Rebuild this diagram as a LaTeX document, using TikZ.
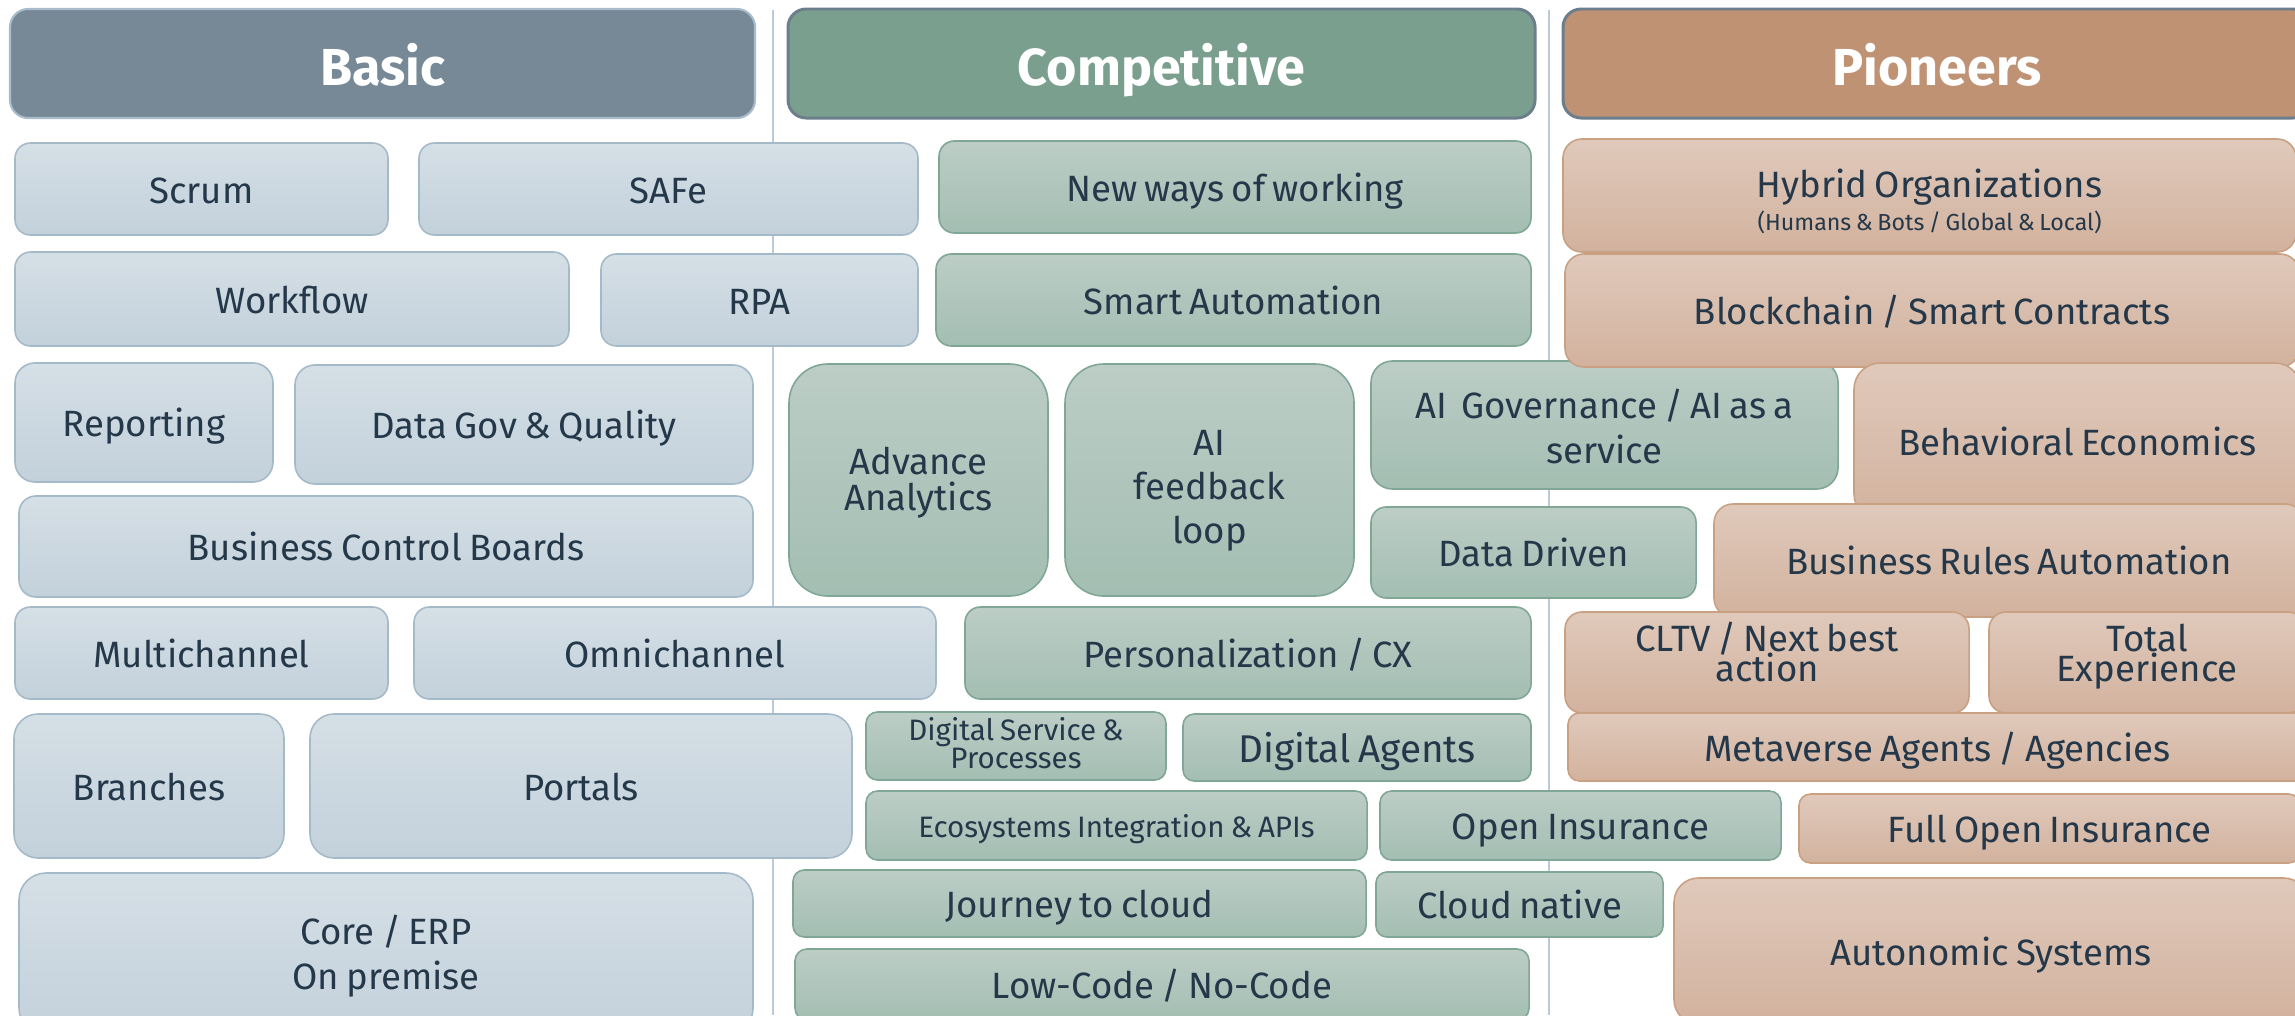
\documentclass[tikz,border=0pt]{standalone}
\usepackage{fontspec}
\setmainfont{Fira Sans}[WordSpace=0.75]
\definecolor{txt}{HTML}{25384A}
\definecolor{vline}{HTML}{B9CADB}
\definecolor{slate}{HTML}{6C7D8C}
\definecolor{hbfill}{HTML}{778896}
\definecolor{hbbord}{HTML}{A8BCCB}
\definecolor{hcfill}{HTML}{7A9F8F}
\definecolor{hpfill}{HTML}{BF9274}
\definecolor{btop}{HTML}{D5DFE6}
\definecolor{bbot}{HTML}{C3D1DB}
\definecolor{bbord}{HTML}{A5BAC9}
\definecolor{ctop}{HTML}{BCCDC6}
\definecolor{cbot}{HTML}{A3BEB2}
\definecolor{cbord}{HTML}{80A696}
\definecolor{ptop}{HTML}{E0C9BB}
\definecolor{pbot}{HTML}{D2B29E}
\definecolor{pbord}{HTML}{C9A082}
\newcommand\lab{\fontsize{10.4}{12.8}\selectfont\lineskiplimit=-30pt\relax}
\newcommand\labsk[1]{\fontsize{10.4}{#1}\selectfont\lineskiplimit=-30pt\relax}
\newcommand\labsmall{\fontsize{8.4}{8}\selectfont\lineskiplimit=-30pt\relax}
\newcommand\bx[7]{%
  \pgfmathsetmacro\bxw{(#5-#3)*0.01}%
  \pgfmathsetmacro\bxh{(#6-#4)*0.01}%
  \pgfmathsetmacro\bxr{0.1667*min(\bxw,\bxh)}%
  \node[#2, minimum width=\bxw cm, minimum height=\bxh cm, rounded corners=\bxr cm, anchor=north west] (#1) at (#3,#4) {#7};}
\tikzset{
  cell/.style={inner sep=0pt, outer sep=0pt, align=center, text=txt, font=\lab, line width=0.45pt, text height=0.285cm, text depth=0pt},
  basicbox/.style={cell, draw=bbord, top color=btop, bottom color=bbot},
  compbox/.style={cell, draw=cbord, top color=ctop, bottom color=cbot},
  pionbox/.style={cell, draw=pbord, top color=ptop, bottom color=pbot},
  head/.style={inner sep=0pt, outer sep=0pt, text=white, font=\fontsize{14.8}{16}\selectfont\bfseries, text height=0.435cm, text depth=0pt},
  colline/.style={draw=vline, line width=0.45pt}
}
\begin{document}
\begin{tikzpicture}[x=0.01cm,y=-0.01cm]
\useasboundingbox (0,0) rectangle (2295,1015);
\clip (0,0) rectangle (2295,1015);
% column separators
\coordinate (l1t) at (773,10); \coordinate (l1b) at (773,1015);
\coordinate (l2t) at (1549,10); \coordinate (l2b) at (1549,1015);
\draw[colline] (l1t) -- (l1b);
\draw[colline] (l2t) -- (l2b);
% headers
\bx{hbasic}{head, fill=hbfill, draw=hbbord, line width=0.6pt}{10}{9}{755}{118}{Basic}
\bx{hcomp}{head, fill=hcfill, draw=slate, line width=0.85pt}{788}{9}{1535}{118}{Competitive}
\bx{hpion}{head, fill=hpfill, draw=slate, line width=0.85pt}{1563}{9}{2311}{118}{Pioneers}
% Basic
\bx{scrum}{basicbox}{15}{143}{388}{235}{Scrum}
\bx{safe}{basicbox}{419}{143}{918}{235}{SAFe}
\bx{workflow}{basicbox}{15}{252}{569}{346}{Workflow}
\bx{rpa}{basicbox}{601}{254}{918}{346}{RPA}
\bx{reporting}{basicbox}{15}{363}{273}{482}{Reporting}
\bx{datagov}{basicbox}{295}{365}{753}{484}{Data Gov \& Quality}
\bx{bcb}{basicbox}{19}{496}{753}{597}{Business Control Boards}
\bx{multi}{basicbox}{15}{607}{388}{699}{Multichannel}
\bx{omni}{basicbox}{414}{607}{936}{699}{Omnichannel}
\bx{branches}{basicbox}{14}{714}{284}{858}{Branches}
\bx{portals}{basicbox}{310}{714}{852}{858}{Portals}
\bx{core}{basicbox, text height=0.25cm+12.8pt}{19}{873}{753}{1035}{Core / ERP\\On premise}
% Competitive
\bx{nwow}{compbox}{939}{141}{1531}{233}{New ways of working}
\bx{smart}{compbox}{936}{254}{1531}{346}{Smart Automation}
\bx{adv}{compbox, font=\labsk{10}, text height=0.25cm+10pt}{789}{364}{1048}{596}{Advance\\Analytics}
\bx{aifb}{compbox, font=\labsk{12.5}, text height=0.39cm+25pt}{1065}{364}{1354}{596}{AI\\feedback\\loop}
\bx{aigov}{compbox, text height=0.31cm+12.8pt}{1371}{361}{1838}{489}{AI\ \ Governance / AI as a\\service}
\bx{datadriven}{compbox}{1371}{507}{1696}{598}{Data Driven}
\bx{perso}{compbox}{965}{607}{1531}{699}{Personalization / CX}
\bx{digserv}{compbox, font=\labsmall, text height=0.17cm+8pt}{866}{712}{1166}{780}{Digital Service \&\\Processes}
\bx{digagents}{compbox, font=\fontsize{11}{13}\selectfont, text height=0.3cm}{1183}{714}{1531}{781}{Digital Agents}
\bx{eco}{compbox, font=\labsmall, text height=0.23cm}{866}{791}{1367}{860}{Ecosystems Integration \& APIs}
\bx{openins}{compbox}{1380}{791}{1781}{860}{Open Insurance}
\bx{journey}{compbox}{793}{870}{1366}{937}{Journey to cloud}
\bx{cloudnative}{compbox}{1376}{872}{1663}{937}{Cloud native}
\bx{lowcode}{compbox}{795}{949}{1529}{1020}{Low-Code / No-Code}
% Pioneers
\bx{hybrid}{pionbox, font=\labsk{9.2}, text height=0.37cm+9.2pt}{1563}{139}{2296}{252}{Hybrid Organizations\\{\fontsize{6.6}{8}\selectfont (Humans \& Bots / Global \& Local)}}
\bx{blockchain}{pionbox}{1565}{254}{2299}{367}{Blockchain / Smart Contracts}
\bx{behavioral}{pionbox}{1854}{363}{2301}{520}{Behavioral Economics}
\bx{bra}{pionbox}{1714}{504}{2304}{617}{Business Rules Automation}
\bx{cltv}{pionbox, font=\labsk{8.5}, text height=0.26cm+8.5pt, text depth=0.18cm}{1565}{612}{1969}{713}{CLTV / Next best\\action}
\bx{total}{pionbox, font=\labsk{8.5}, text height=0.26cm+8.5pt, text depth=0.18cm}{1989}{612}{2305}{713}{Total\\Experience}
\bx{metaverse}{pionbox}{1568}{713}{2307}{781}{Metaverse Agents / Agencies}
\bx{fullopen}{pionbox}{1799}{794}{2300}{863}{Full Open Insurance}
\bx{autonomic}{pionbox}{1674}{878}{2308}{1024}{Autonomic Systems}
\end{tikzpicture}
\end{document}
